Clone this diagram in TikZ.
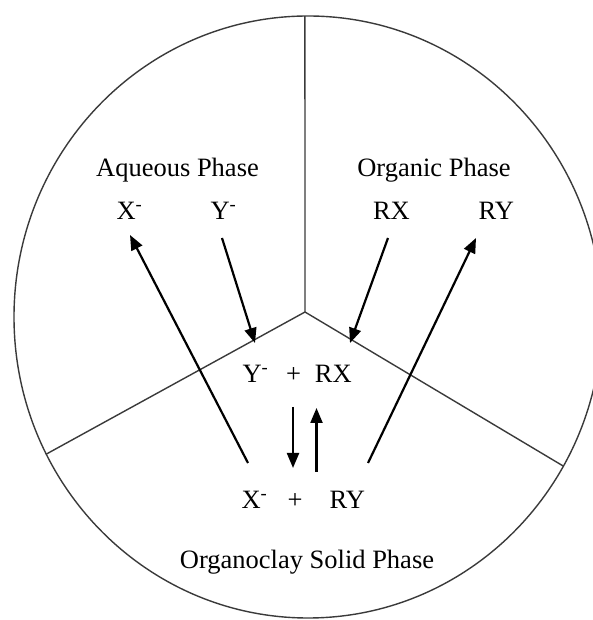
\documentclass[tikz,border=0pt]{standalone}
\usepackage{fontspec}
\setmainfont{Liberation Serif}
\usepackage{tikz}
\usetikzlibrary{arrows.meta,positioning,calc}
\definecolor{rimgray}{HTML}{3A3A3A}

\begin{document}
\begin{tikzpicture}[x=1pt, y=1pt,
  every node/.style={font=\fontsize{26.5}{30}\selectfont, inner sep=0pt},
  species/.style={anchor=base},
  divider/.style={draw=rimgray, line width=1.4pt},
  arr/.style={-{Triangle[length=15pt,width=12pt]}, line width=2.2pt}]
  \useasboundingbox (0,0) rectangle (593,620);
  % outer boundary and the three sectors
  \coordinate (ctr) at (308,303);
  \coordinate (hub) at (305,308);
  \draw[divider] (ctr) ellipse [x radius=294pt, y radius=301pt];
  \draw[divider] (hub) -- ($(ctr)+(90.6:294pt and 301pt)$);
  \draw[divider] (hub) -- ($(ctr)+(207.1:294pt and 301pt)$);
  \draw[divider] (hub) -- ($(ctr)+(330.3:294pt and 301pt)$);
  % phase labels
  \node[species] (aqueous) at (177.5,443) {Aqueous Phase};
  \node[species] (organic) at (434,443) {Organic Phase};
  \node[species] (solid) at (307,51) {Organoclay Solid Phase};
  % species in each phase
  \node[species] (xaq) at (129.5,400) {X\textsuperscript{-}};
  \node[species] (yaq) at (223.5,400) {Y\textsuperscript{-}};
  \node[species] (rxorg) at (391.4,400) {RX};
  \node[species] (ryorg) at (496.4,400) {RY};
  \node[species] (ysol) at (255.5,237) {Y\textsuperscript{-}};
  \node[species] (plusup) at (293.5,237) {+};
  \node[species] (rxsol) at (333.4,237) {RX};
  \node[species] (xsol) at (254.5,111) {X\textsuperscript{-}};
  \node[species] (pluslow) at (295,111) {+};
  \node[species] (rysol) at (347.4,111) {RY};
  % transfer arrows
  \draw[arr] ([shift={(-6.5,46)}]xsol.base) -- ([shift={(0.5,-15)}]xaq.base);
  \draw[arr] ([shift={(-1.5,-18)}]yaq.base) -- ([shift={(-0.5,40)}]ysol.base);
  \draw[arr] ([shift={(-3.4,-18)}]rxorg.base) -- ([shift={(16.6,40)}]rxsol.base);
  \draw[arr] ([shift={(20.6,46)}]rysol.base) -- ([shift={(-20.4,-18)}]ryorg.base);
  % exchange in the solid phase
  \draw[arr] ([shift={(-0.5,-24)}]plusup.base) -- ([shift={(-2,41)}]pluslow.base);
  \draw[arr] ([shift={(21.5,37)}]pluslow.base) -- ([shift={(23,-25)}]plusup.base);
\end{tikzpicture}
\end{document}
